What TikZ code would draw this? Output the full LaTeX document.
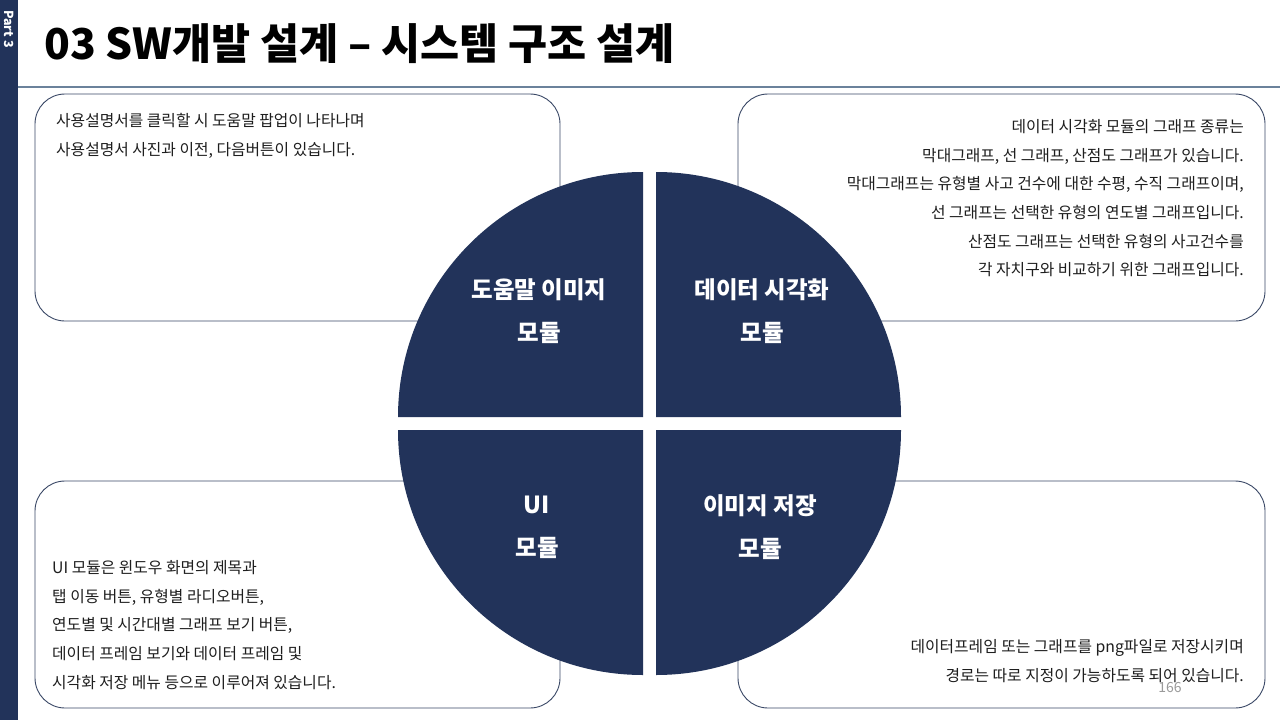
\documentclass[tikz,border=0pt]{standalone}
\usepackage{fontspec}
\setmainfont{Noto Sans CJK KR}
\definecolor{navy}{HTML}{22335A}
\definecolor{boxline}{HTML}{3A4866}
\definecolor{headline}{HTML}{6B829B}
\definecolor{txt}{HTML}{1E1E1E}
\definecolor{pagegray}{HTML}{9A9A9A}
\tikzset{
  infobox/.style={draw=boxline, line width=0.9pt, rounded corners=30pt},
  quad/.style={fill=navy},
  bodytext/.style={text=txt, inner sep=0pt, font=\fontsize{15.8}{28.6}\selectfont},
  quadlabel/.style={text=white, inner sep=0pt, font=\bfseries\fontsize{23.5}{43}\selectfont, align=center}
}
\begin{document}
\begin{tikzpicture}[x=1pt,y=-1pt]
\useasboundingbox (0,0) rectangle (1280,720);
\fill[white] (0,0) rectangle (1280,720);
% side bar
\fill[navy] (0,0) rectangle (18,720);
\node[rotate=-90, text=white, inner sep=0pt, font=\bfseries\fontsize{12.5}{12.5}\selectfont] (part) at (9,29) {Part 3};
% title
\node[anchor=west, inner sep=0pt, text=black, font=\bfseries\fontsize{42.5}{42.5}\selectfont] (title) at (44,44) {03 SW개발 설계 – 시스템 구조 설계};
\draw[headline, line width=1.2pt] (18,87) -- (1280,87);
% boxes
\draw[infobox] (35,94) rectangle (560,321);
\draw[infobox] (738,94) rectangle (1265,321);
\draw[infobox] (35,481) rectangle (560,708);
\draw[infobox] (738,481) rectangle (1265,708);
% quadrants
\fill[quad] (643,417) -- ++(-245,0) arc[start angle=180, end angle=270, radius=245] -- cycle;
\fill[quad] (656,417) -- ++(245,0) arc[start angle=0, end angle=-90, radius=245] -- cycle;
\fill[quad] (643,430) -- ++(-245,0) arc[start angle=180, end angle=90, radius=245] -- cycle;
\fill[quad] (656,430) -- ++(245,0) arc[start angle=0, end angle=90, radius=245] -- cycle;
% quadrant labels
\node[quadlabel] (q1) at (539,311.5) {도움말 이미지\\모듈};
\node[quadlabel] (q2) at (762,311.5) {데이터 시각화\\모듈};
\node[quadlabel] (q3) at (537,527.5) {UI\\모듈};
\node[quadlabel] (q4) at (760,527.5) {이미지 저장\\모듈};
% texts
\node[bodytext, anchor=north west, align=left] (t1) at (56,113.5) {사용설명서를 클릭할 시 도움말 팝업이 나타나며\\사용설명서 사진과 이전, 다음버튼이 있습니다.};
\node[bodytext, anchor=north east, align=right] (t2) at (1244,119.5) {데이터 시각화 모듈의 그래프 종류는\\막대그래프, 선 그래프, 산점도 그래프가 있습니다.\\막대그래프는 유형별 사고 건수에 대한 수평, 수직 그래프이며,\\선 그래프는 선택한 유형의 연도별 그래프입니다.\\산점도 그래프는 선택한 유형의 사고건수를\\각 자치구와 비교하기 위한 그래프입니다.};
\node[bodytext, anchor=north west, align=left] (t3) at (52,560.5) {UI 모듈은 윈도우 화면의 제목과\\탭 이동 버튼, 유형별 라디오버튼,\\연도별 및 시간대별 그래프 보기 버튼,\\데이터 프레임 보기와 데이터 프레임 및\\시각화 저장 메뉴 등으로 이루어져 있습니다.};
\node[bodytext, anchor=north east, align=right] (t4) at (1244,639.5) {데이터프레임 또는 그래프를 png파일로 저장시키며\\경로는 따로 지정이 가능하도록 되어 있습니다.};
\node[text=pagegray, inner sep=0pt, font=\fontsize{14}{14}\selectfont] (pg) at (1170,688) {166};
\end{tikzpicture}
\end{document}
